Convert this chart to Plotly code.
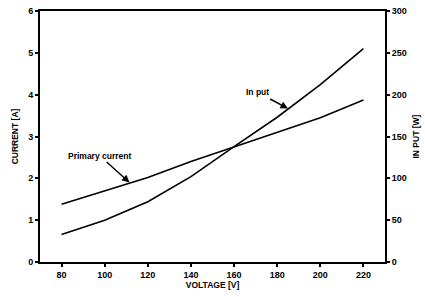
import plotly.graph_objects as go

voltage = [80, 100, 120, 140, 160, 180, 200, 220]
primary_current = [1.38, 1.7, 2.02, 2.4, 2.75, 3.1, 3.45, 3.87]
input_power = [33, 50, 72, 102, 138, 173, 212, 255]

x_ticks = [80, 100, 120, 140, 160, 180, 200, 220]
y_ticks = [0, 1, 2, 3, 4, 5, 6]
y2_ticks = [0, 50, 100, 150, 200, 250, 300]

fam = "Liberation Sans, Arial, sans-serif"
font = dict(family=fam, size=9, color="black")

fig = go.Figure()
fig.add_trace(go.Scatter(x=voltage, y=primary_current, mode="lines",
                         line=dict(color="black", width=1.6), yaxis="y"))
fig.add_trace(go.Scatter(x=voltage, y=input_power, mode="lines",
                         line=dict(color="black", width=1.6), yaxis="y2"))

axis_common = dict(showline=True, linecolor="black", linewidth=2, ticks="outside",
                   ticklen=3, tickwidth=1.5, tickcolor="black", showgrid=False,
                   zeroline=False, automargin=False,
                   tickfont=dict(family=fam, size=9, color="black", weight="bold"))

fig.update_layout(
    width=425, height=297,
    margin=dict(l=40, r=40, t=11, b=35),
    paper_bgcolor="white", plot_bgcolor="white",
    showlegend=False,
    font=font,
    xaxis=dict(range=[70, 230], tickvals=x_ticks, mirror=True,
               title=dict(text="<b>VOLTAGE [V]</b>", standoff=3, font=dict(size=8.5)),
               **axis_common),
    yaxis=dict(range=[0, 6], tickvals=y_ticks,
               title=dict(text="<b>CURRENT [A]</b>", standoff=8, font=dict(size=8.5)),
               **axis_common),
    yaxis2=dict(range=[0, 300], tickvals=y2_ticks, overlaying="y", side="right",
                **axis_common),
)

fig.add_annotation(x=1.087, y=0.5, xref="paper", yref="paper", showarrow=False,
                   text="<b>IN PUT [W]</b>", textangle=-90, xanchor="center",
                   yanchor="middle",
                   font=dict(family=fam, size=8.5, color="black"))
fig.add_annotation(x=111.5, y=1.9, xref="x", yref="y", ax=-30, ay=-27,
                   text="<b>Primary current</b>", showarrow=True, arrowhead=2,
                   arrowsize=1, arrowwidth=1.5, arrowcolor="black",
                   font=dict(family=fam, size=8.5, color="black"))
fig.add_annotation(x=185, y=3.67, xref="x", yref="y", ax=-30, ay=-16,
                   text="<b>In put</b>", showarrow=True, arrowhead=2,
                   arrowsize=1, arrowwidth=1.5, arrowcolor="black",
                   font=dict(family=fam, size=8.5, color="black"))

fig.write_html("out.html", config={"displayModeBar": False},
               post_script="document.body.style.margin='0';")
